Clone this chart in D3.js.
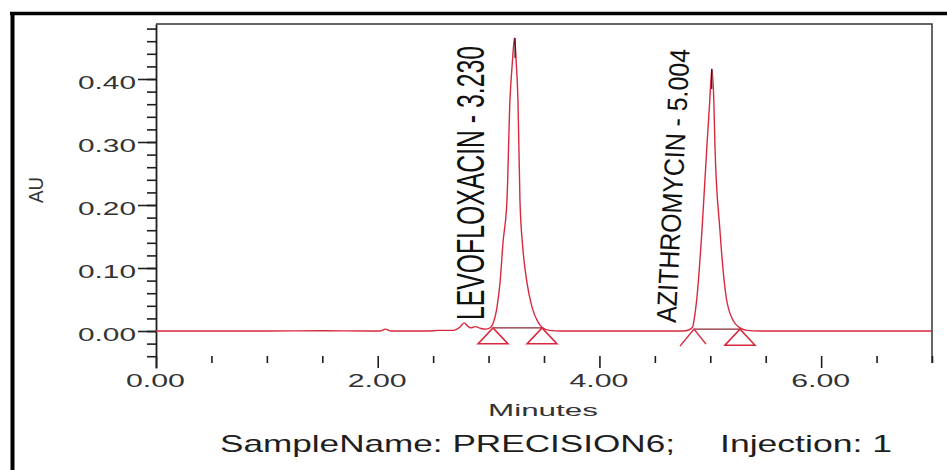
<!DOCTYPE html>
<html>
<head>
<meta charset="utf-8">
<script src="https://cdn.jsdelivr.net/npm/d3@7"></script>
<style>
  body { margin: 0; background: #fff; }
  svg { display: block; font-family: "Liberation Sans", Arial, sans-serif; }
</style>
</head>
<body>
<svg width="947" height="470"></svg>
<script>
// chromatogram trace (minutes, AU)
var traceTime = [0.00, 0.50, 1.00, 1.50, 1.90, 2.02, 2.07, 2.12, 2.45, 2.55, 2.68, 2.74, 2.78, 2.81, 2.84, 2.88, 2.93, 2.98, 3.02,
  3.040, 3.076, 3.103, 3.13, 3.166, 3.193, 3.214, 3.234, 3.250, 3.265, 3.283, 3.31, 3.347, 3.392, 3.446, 3.482, 3.55, 3.65,
  4.20, 4.75, 4.81, 4.84, 4.853, 4.880, 4.925, 4.970, 4.993, 5.015, 5.033, 5.042, 5.087, 5.143, 5.205, 5.268, 5.33, 5.45, 6.20, 7.00];
var traceAU = [0.000, 0.000, 0.000, 0.0005, 0.000, 0.000, 0.003, 0.000, 0.000, 0.001, 0.001, 0.006, 0.013, 0.008, 0.005, 0.007, 0.004, 0.003, 0.006,
  0.012, 0.038, 0.076, 0.140, 0.208, 0.367, 0.425, 0.465, 0.425, 0.367, 0.208, 0.130, 0.076, 0.038, 0.014, 0.006, 0.001, 0.000,
  0.000, 0.000, 0.002, 0.006, 0.017, 0.054, 0.160, 0.295, 0.359, 0.416, 0.359, 0.295, 0.160, 0.054, 0.017, 0.005, 0.001, 0.000, 0.000, 0.000];

// peaks
var peakNames = ["LEVOFLOXACIN", "AZITHROMYCIN"];
var peakRT = [3.230, 5.004];
var intStartT = [3.040, 4.853];
var intEndT = [3.482, 5.268];
var intLevel = [0.005, 0.003];
var startMarker = ["triangle", "open"];

// axes
var xTicks = [0, 2, 4, 6];
var xMinor = [0.5, 1, 1.5, 2.5, 3, 3.5, 4.5, 5, 5.5, 6.5, 7];
var yTicks = [0, 0.1, 0.2, 0.3, 0.4];
var yMinor = d3.range(-0.04, 0.49, 0.02);

var svg = d3.select("svg");
var ink = "#1e1e1e";
var red = "#d8293f";

// outer frame
svg.append("line").attr("x1", 10).attr("x2", 947).attr("y1", 13.5).attr("y2", 13.5)
  .attr("stroke", "#000").attr("stroke-width", 3.5);
svg.append("line").attr("x1", 12.5).attr("x2", 12.5).attr("y1", 12).attr("y2", 470)
  .attr("stroke", "#000").attr("stroke-width", 4);

var x = d3.scaleLinear().domain([0, 7]).range([156, 932]);
var y = d3.scaleLinear().domain([-0.0587, 0.4873]).range([368, 24]);

// plot frame top and right
svg.append("path")
  .attr("d", "M" + x(0) + "," + y.range()[1] + "H" + x(7) + "V363")
  .attr("fill", "none").attr("stroke", "#333").attr("stroke-width", 1.5);

// y axis
svg.append("g")
  .attr("transform", "translate(" + x(0) + ",0)")
  .call(d3.axisLeft(y).tickValues(yMinor).tickSize(9).tickSizeOuter(0).tickFormat(""))
  .call(function(g) { g.selectAll("line").attr("stroke", ink).attr("stroke-width", 1.6); })
  .call(function(g) { g.select(".domain").attr("stroke", ink).attr("stroke-width", 1.8); });

svg.append("g")
  .attr("transform", "translate(" + x(0) + ",0)")
  .call(d3.axisLeft(y).tickValues(yTicks).tickSize(18).tickPadding(2).tickFormat(d3.format(".2f")))
  .call(function(g) { g.select(".domain").remove(); })
  .call(function(g) { g.selectAll("line").attr("stroke", ink).attr("stroke-width", 1.6); })
  .call(function(g) {
    g.selectAll("text")
      .attr("font-size", 18).attr("fill", "#333").attr("font-family", null)
      .attr("dy", 9.5)
      .attr("textLength", 58).attr("lengthAdjust", "spacingAndGlyphs");
  });

// x axis (no base line)
svg.append("g")
  .attr("transform", "translate(0,356)")
  .call(d3.axisBottom(x).tickValues(xMinor).tickSize(7).tickSizeOuter(0).tickFormat(""))
  .call(function(g) { g.select(".domain").remove(); })
  .call(function(g) { g.selectAll("line").attr("stroke", ink).attr("stroke-width", 1.6); });

svg.append("g")
  .attr("transform", "translate(0,356)")
  .call(d3.axisBottom(x).tickValues(xTicks).tickSize(12).tickFormat(d3.format(".2f")))
  .call(function(g) { g.select(".domain").remove(); })
  .call(function(g) { g.selectAll("line").attr("stroke", ink).attr("stroke-width", 1.6); })
  .call(function(g) {
    g.selectAll("text")
      .attr("font-size", 18).attr("fill", "#333").attr("font-family", null)
      .attr("y", 31).attr("dy", 0).attr("x", -1)
      .attr("textLength", 59).attr("lengthAdjust", "spacingAndGlyphs");
  });

// axis titles
svg.append("text")
  .attr("x", 543).attr("y", 416)
  .attr("text-anchor", "middle").attr("font-size", 17).attr("fill", "#333")
  .attr("textLength", 110).attr("lengthAdjust", "spacingAndGlyphs")
  .text("Minutes");

svg.append("text")
  .attr("transform", "translate(43,203) scale(1.15,1) rotate(-90)")
  .attr("font-size", 18).attr("fill", "#333")
  .attr("textLength", 26).attr("lengthAdjust", "spacingAndGlyphs")
  .text("AU");

svg.append("text")
  .attr("x", 220).attr("y", 452)
  .attr("font-size", 24).attr("fill", ink)
  .attr("textLength", 455).attr("lengthAdjust", "spacingAndGlyphs")
  .text("SampleName: PRECISION6;");

svg.append("text")
  .attr("x", 720).attr("y", 452)
  .attr("font-size", 24).attr("fill", ink)
  .attr("textLength", 172).attr("lengthAdjust", "spacingAndGlyphs")
  .text("Injection: 1");

// trace
var pts = traceTime.map(function(t, i) { return [t, traceAU[i]]; });
var line = d3.line()
  .x(function(d) { return x(d[0]); })
  .y(function(d) { return y(d[1]); })
  .curve(d3.curveMonotoneX);

svg.append("path")
  .datum(pts)
  .attr("d", line)
  .attr("fill", "none")
  .attr("stroke", red)
  .attr("stroke-width", 1.4);

// integration baselines and markers
peakNames.forEach(function(name, i) {
  var yb = y(intLevel[i]);
  svg.append("line")
    .attr("x1", x(intStartT[i])).attr("x2", x(intEndT[i]))
    .attr("y1", yb).attr("y2", yb)
    .attr("stroke", "#8a2a34").attr("stroke-width", 1.2);

  [intStartT[i], intEndT[i]].forEach(function(t, k) {
    var cx = x(t);
    var open = (k === 0 && startMarker[i] === "open");
    var p = open
      ? "M" + (cx - 14) + "," + (yb + 17) + "L" + cx + "," + yb + "L" + (cx + 12) + "," + (yb + 15)
      : "M" + (cx - 15) + "," + (yb + 16) + "L" + cx + "," + yb + "L" + (cx + 15) + "," + (yb + 16) + "Z";
    svg.append("path").attr("d", p)
      .attr("fill", "none").attr("stroke", red).attr("stroke-width", 1.5);
  });

  // retention time tick at apex
  var apex = d3.max(pts.filter(function(d) { return Math.abs(d[0] - peakRT[i]) < 0.05; }), function(d) { return d[1]; });
  svg.append("line")
    .attr("x1", x(peakRT[i]) + 1).attr("x2", x(peakRT[i]) + 1)
    .attr("y1", y(apex)).attr("y2", y(apex) + 20)
    .attr("stroke", "#2a0a10").attr("stroke-width", 1.2);

  var lx = x(peakRT[i]) - 30;
  var tf = i === 0
    ? "translate(" + lx + ",320) scale(1.63,1) rotate(-90)"
    : "translate(" + (lx - 5) + ",323) scale(1.16,1) rotate(-87.5)";
  svg.append("text")
    .attr("transform", tf)
    .attr("font-size", 24).attr("fill", "#111")
    .attr("textLength", 274).attr("lengthAdjust", "spacingAndGlyphs")
    .text(name + " - " + d3.format(".3f")(peakRT[i]));
});
</script>
</body>
</html>
